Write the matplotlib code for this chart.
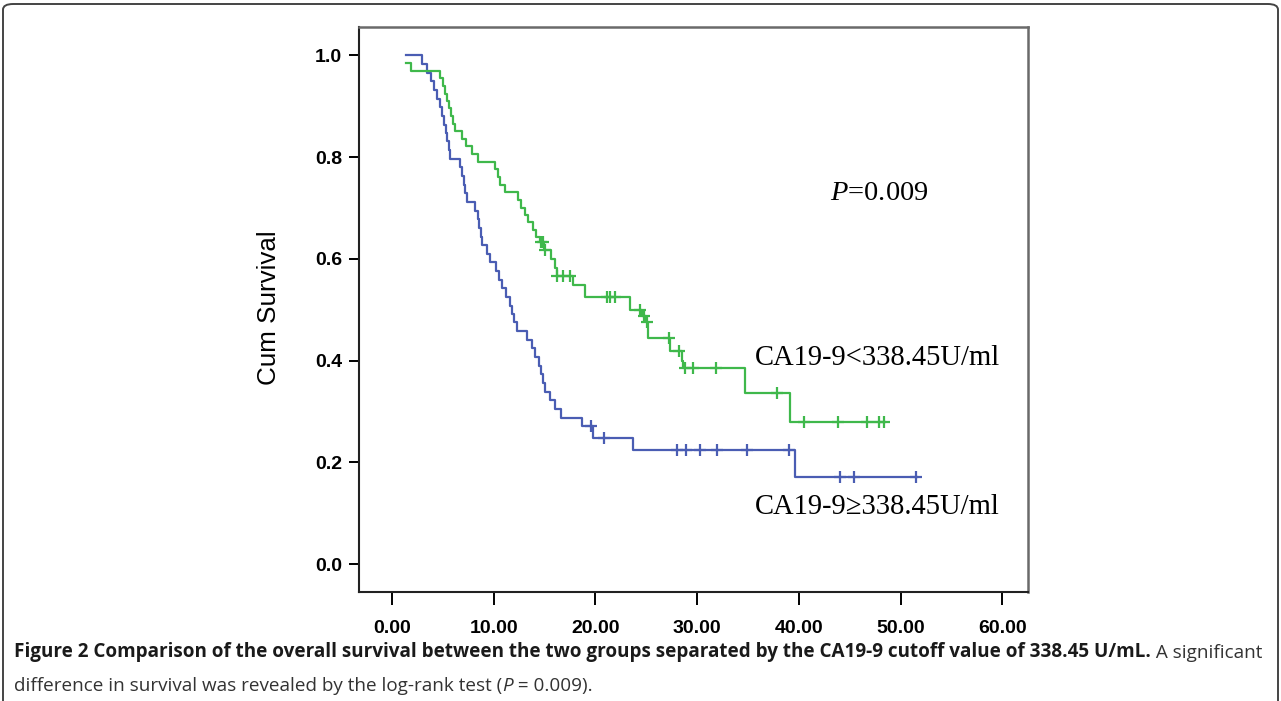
import matplotlib
matplotlib.use("Agg")
import matplotlib.pyplot as plt
import numpy as np
from matplotlib.patches import FancyBboxPatch

# Kaplan-Meier steps (time, survival after the step)
blue_t = [1.4, 2.9, 3.4, 3.8, 4.1, 4.4, 4.7, 4.9, 5.1, 5.3,
          5.45, 5.6, 5.7, 6.7, 6.9, 7.1, 7.2, 7.4, 8.2, 8.5,
          8.6, 8.7, 8.8, 9.3, 9.6, 10.2, 10.5, 10.8, 11.2, 11.6,
          11.8, 12.0, 12.3, 13.3, 13.8, 14.1, 14.4, 14.6, 14.8, 15.0,
          15.5, 16.0, 16.6, 18.7, 19.8, 23.7, 39.6, 51.6]
blue_s = [1.000, 0.983, 0.966, 0.949, 0.932, 0.915, 0.898, 0.881, 0.864, 0.847,
          0.831, 0.814, 0.797, 0.780, 0.763, 0.746, 0.729, 0.712, 0.695, 0.678,
          0.661, 0.644, 0.627, 0.610, 0.593, 0.576, 0.559, 0.542, 0.525, 0.508,
          0.492, 0.475, 0.458, 0.441, 0.424, 0.407, 0.390, 0.373, 0.356, 0.339,
          0.322, 0.305, 0.288, 0.271, 0.248, 0.224, 0.172, 0.172]
blue_cens = [19.6, 20.8, 28.0, 28.9, 30.3, 31.9, 34.9, 39.0, 44.0, 45.4, 51.5]

green_t = [1.4, 1.9, 4.7, 5.0, 5.2, 5.4, 5.6, 5.8, 6.0, 6.2,
           6.9, 7.3, 7.9, 8.5, 10.1, 10.4, 10.6, 11.1, 12.4, 12.7,
           13.1, 13.4, 13.9, 14.2, 14.5, 14.9, 15.6, 16.0, 16.2, 17.8,
           19.0, 23.4, 24.6, 24.95, 25.2, 27.3, 28.5, 28.6, 34.7, 39.1,
           48.5]
green_s = [0.985, 0.970, 0.955, 0.940, 0.925, 0.910, 0.896, 0.881, 0.866, 0.851,
           0.836, 0.821, 0.806, 0.791, 0.776, 0.761, 0.746, 0.731, 0.716, 0.701,
           0.687, 0.672, 0.657, 0.644, 0.634, 0.618, 0.600, 0.582, 0.566, 0.549,
           0.526, 0.500, 0.487, 0.476, 0.445, 0.418, 0.400, 0.385, 0.336, 0.280,
           0.280]
green_cens = [14.6, 14.8, 15.0, 16.2, 16.8, 17.5, 21.1, 21.4, 21.9, 24.4, 24.8,
              25.1, 27.2, 28.2, 28.8, 29.6, 31.8, 37.8, 40.5, 43.8, 46.7, 47.9, 48.4]

x_ticks = [0, 10, 20, 30, 40, 50, 60]
y_ticks = [0.0, 0.2, 0.4, 0.6, 0.8, 1.0]

label_low = "CA19-9<338.45U/ml"
label_high = "CA19-9\u2265338.45U/ml"
p_text = "$P$=0.009"

BLUE = "#4a5db3"
GREEN = "#3fb84b"

plt.rcParams["mathtext.fontset"] = "custom"
plt.rcParams["mathtext.it"] = "Liberation Serif:italic"
plt.rcParams["mathtext.rm"] = "Liberation Serif"

fig = plt.figure(figsize=(12.81, 7.01), dpi=100)
ax = fig.add_axes([0.2802, 0.1555, 0.5222, 0.806])


def censor_levels(t, s, cens):
    idx = np.searchsorted(t, cens, side="right") - 1
    return np.asarray(s)[idx]


for t, s, cens, col in [(blue_t, blue_s, blue_cens, BLUE),
                        (green_t, green_s, green_cens, GREEN)]:
    ax.step(t, s, where="post", color=col, lw=1.6)
    ax.plot(cens, censor_levels(t, s, cens), ls="none", marker="+",
            ms=9, mew=1.6, color=col)

ax.set_xlim(-3.25, 62.5)
ax.set_ylim(-0.055, 1.056)
ax.set_xticks(x_ticks)
ax.set_xticklabels([f"{v:.2f}" for v in x_ticks])
ax.set_yticks(y_ticks)
ax.set_yticklabels([f"{v:.1f}" for v in y_ticks])
ax.tick_params(axis="y", direction="out", length=7.2, width=1.4, pad=5,
               labelsize=14)
ax.tick_params(axis="x", direction="out", length=9.4, width=1.4, pad=11,
               labelsize=14)
for lab in ax.get_xticklabels() + ax.get_yticklabels():
    lab.set_family("Liberation Sans")
    lab.set_fontweight("bold")

for side in ["left", "bottom"]:
    ax.spines[side].set_color("#222222")
    ax.spines[side].set_linewidth(1.5)
for side in ["top", "right"]:
    ax.spines[side].set_color("#6a6a6a")
    ax.spines[side].set_linewidth(1.8)

ax.set_ylabel("Cum Survival", family="Liberation Sans", fontsize=18.7)
ax.yaxis.set_label_coords(-0.117, 0.504)

ax.text(43.1, 0.729, p_text, family="Liberation Serif", fontsize=20.5,
        va="center", ha="left")
ax.text(35.7, 0.405, label_low, family="Liberation Serif", fontsize=20.6,
        va="center", ha="left")
ax.text(35.7, 0.113, label_high, family="Liberation Serif", fontsize=20.6,
        va="center", ha="left")

# caption under the chart
cap_font = ["Open Sans"]
cap_size = 13.6
t1 = fig.text(14 / 1281, 1 - 662 / 701,
              "Figure 2 Comparison of the overall survival between the two "
              "groups separated by the CA19-9 cutoff value of 338.45 U/mL.",
              family=cap_font, fontweight="bold", fontsize=cap_size,
              color="#1a1a1a", va="bottom")
ax.annotate(" A significant", xy=(1, 0), xycoords=t1, va="bottom",
            family=cap_font, fontsize=cap_size, color="#333333",
            annotation_clip=False)
t2 = fig.text(14 / 1281, 1 - 695 / 701,
              "difference in survival was revealed by the log-rank test (",
              family=cap_font, fontsize=cap_size, color="#333333", va="bottom")
t3 = ax.annotate("P", xy=(1, 0), xycoords=t2, va="bottom", family=cap_font,
                 fontsize=cap_size, style="italic", color="#333333",
                 annotation_clip=False)
ax.annotate(" = 0.009).", xy=(1, 0), xycoords=t3, va="bottom",
            family=cap_font, fontsize=cap_size, color="#333333",
            annotation_clip=False)

border = FancyBboxPatch((3 / 1281, -0.05), 1275 / 1281, 1.05 - 4 / 701,
                        boxstyle="round,pad=0,rounding_size=0.008",
                        transform=fig.transFigure, fill=False,
                        ec="#444444", lw=1.4)
fig.add_artist(border)

fig.savefig("out.png", dpi=100)
